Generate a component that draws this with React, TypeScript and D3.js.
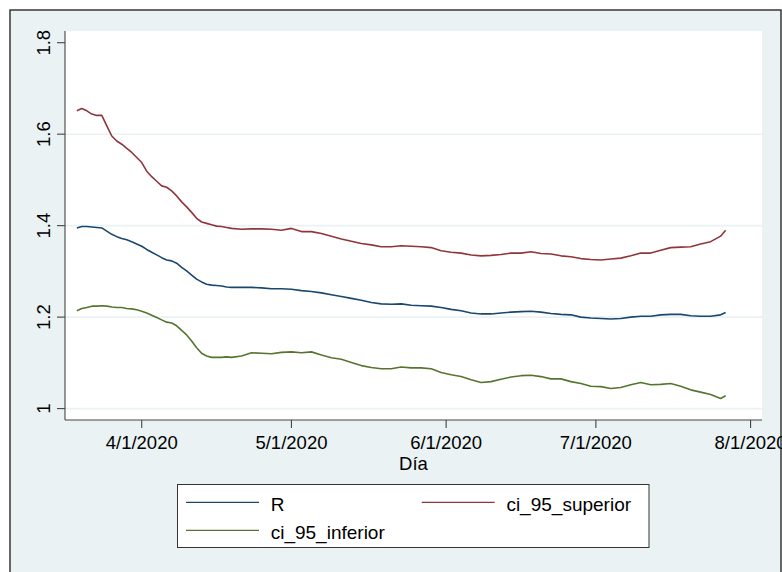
import React from "react";
import * as d3 from "d3";

// Daily / bi-daily estimates of the reproduction number and its 95% interval
const dates = [
  "2020-03-19", "2020-03-20", "2020-03-21", "2020-03-22", "2020-03-23", "2020-03-24",
  "2020-03-25", "2020-03-26", "2020-03-27", "2020-03-28", "2020-03-29", "2020-03-30",
  "2020-03-31", "2020-04-01", "2020-04-02", "2020-04-03", "2020-04-04", "2020-04-05",
  "2020-04-06", "2020-04-07", "2020-04-08", "2020-04-09", "2020-04-10", "2020-04-11",
  "2020-04-12", "2020-04-13", "2020-04-14", "2020-04-15", "2020-04-16", "2020-04-17",
  "2020-04-18", "2020-04-19",
  "2020-04-21", "2020-04-23", "2020-04-25", "2020-04-27", "2020-04-29",
  "2020-05-01", "2020-05-03", "2020-05-05", "2020-05-07", "2020-05-09", "2020-05-11",
  "2020-05-13", "2020-05-15", "2020-05-17", "2020-05-19", "2020-05-21", "2020-05-23",
  "2020-05-25", "2020-05-27", "2020-05-29", "2020-05-31",
  "2020-06-02", "2020-06-04", "2020-06-06", "2020-06-08", "2020-06-10", "2020-06-12",
  "2020-06-14", "2020-06-16", "2020-06-18", "2020-06-20", "2020-06-22", "2020-06-24",
  "2020-06-26", "2020-06-28", "2020-06-30",
  "2020-07-02", "2020-07-04", "2020-07-06", "2020-07-08", "2020-07-10", "2020-07-12",
  "2020-07-14", "2020-07-16", "2020-07-18", "2020-07-20", "2020-07-22", "2020-07-24",
  "2020-07-26", "2020-07-27",
];

const rValues = [
  1.395, 1.398, 1.398, 1.397, 1.396, 1.395, 1.388, 1.381, 1.376, 1.372, 1.369, 1.365,
  1.360, 1.355, 1.348, 1.342, 1.336, 1.330, 1.325, 1.323, 1.318, 1.309, 1.301, 1.292,
  1.283, 1.277, 1.272, 1.270, 1.269, 1.268, 1.266, 1.265,
  1.265, 1.265, 1.264, 1.262, 1.262, 1.261, 1.258, 1.256, 1.253, 1.249, 1.245, 1.241,
  1.237, 1.232, 1.229, 1.228, 1.229,
  1.226, 1.225, 1.224, 1.221, 1.217, 1.214, 1.209, 1.207, 1.207, 1.209, 1.211, 1.212,
  1.213, 1.211, 1.208, 1.206,
  1.205, 1.200, 1.198, 1.197, 1.196, 1.197, 1.200, 1.202, 1.202, 1.205, 1.206, 1.206,
  1.203, 1.202, 1.202, 1.205, 1.210,
];

const ciUpper = [
  1.651, 1.656, 1.651, 1.644, 1.641, 1.641, 1.618, 1.596, 1.585, 1.578, 1.569, 1.560,
  1.549, 1.538, 1.519, 1.507, 1.497, 1.487, 1.484, 1.476, 1.465, 1.452, 1.441, 1.429,
  1.416, 1.408, 1.405, 1.402, 1.399, 1.398, 1.396, 1.394,
  1.392, 1.393, 1.393, 1.392, 1.390, 1.394, 1.387, 1.387, 1.383, 1.377, 1.371, 1.366,
  1.361, 1.358, 1.354, 1.354, 1.356,
  1.355, 1.354, 1.352, 1.345, 1.342, 1.340, 1.336, 1.334, 1.335, 1.337, 1.340, 1.340,
  1.343, 1.339, 1.338, 1.334,
  1.332, 1.328, 1.326, 1.325, 1.327, 1.329, 1.334, 1.340, 1.340, 1.346, 1.352, 1.353,
  1.354, 1.360, 1.365, 1.377, 1.390,
];

const ciLower = [
  1.214, 1.219, 1.221, 1.224, 1.224, 1.225, 1.224, 1.222, 1.221, 1.221, 1.219, 1.218,
  1.216, 1.213, 1.209, 1.204, 1.199, 1.194, 1.189, 1.187, 1.181, 1.171, 1.161, 1.148,
  1.133, 1.121, 1.115, 1.112, 1.112, 1.112, 1.113, 1.112,
  1.115, 1.122, 1.121, 1.120, 1.123, 1.124, 1.122, 1.124, 1.117, 1.111, 1.108, 1.101,
  1.094, 1.090, 1.087, 1.087, 1.091,
  1.089, 1.089, 1.087, 1.079, 1.074, 1.070, 1.063, 1.057, 1.059, 1.064, 1.069, 1.072,
  1.073, 1.070, 1.065, 1.065,
  1.059, 1.055, 1.049, 1.048, 1.044, 1.046, 1.052, 1.057, 1.052, 1.053, 1.055, 1.049,
  1.041, 1.036, 1.031, 1.022, 1.028,
];

const yTicks = [1, 1.2, 1.4, 1.6, 1.8];
const yGridTicks = [1, 1.2, 1.4, 1.6];
const xTicks = ["2020-04-01", "2020-05-01", "2020-06-01", "2020-07-01", "2020-08-01"];
const xDomain = ["2020-03-16T15:00", "2020-08-03T07:00"];
const xTitle = "Día";

const seriesNames = ["R", "ci_95_superior", "ci_95_inferior"];
const seriesColors = ["#1a476f", "#90353b", "#55752f"];

const W = 782;
const H = 572;
const plot = { left: 65, right: 762, top: 31, bottom: 420 };
const FONT = "'Liberation Sans', Arial, Helvetica, sans-serif";
const BG = "#eaf2f3";

const parseDay = d3.timeParse("%Y-%m-%d");
const parseHour = d3.timeParse("%Y-%m-%dT%H:%M");
const fmtTick = d3.timeFormat("%-m/%-d/%Y");

export default function App() {
  const x = d3
    .scaleTime()
    .domain(xDomain.map((s) => parseHour(s) as Date))
    .range([plot.left, plot.right]);
  const y = d3.scaleLinear().domain([1, 1.8]).range([408.6, 42.7]);

  const seriesValues = [rValues, ciUpper, ciLower];
  const parsedDates = dates.map((s) => parseDay(s) as Date);

  const line = d3
    .line<[Date, number]>()
    .x((d) => x(d[0]))
    .y((d) => y(d[1]));

  // legend cells: two columns, wraps onto a second row
  const legend = { x: 177.5, y: 484.5, w: 471.5, h: 63 };
  const legendCells = seriesNames.map((name, i) => {
    const col = i % 2;
    const row = Math.floor(i / 2);
    const lx = legend.x + 8.5 + col * 235.7;
    const ly = legend.y + 17.8 + row * 28;
    return { name, color: seriesColors[i], lx, ly };
  });

  return (
    <svg
      width={W}
      height={H}
      style={{ position: "absolute", left: 0, top: 0, display: "block", background: "#fff" }}
      fontFamily={FONT}
    >
      <rect x={10} y={10} width={771} height={H + 20} fill={BG} stroke="#2b2b2b" strokeWidth={1.4} />
      <rect
        x={plot.left}
        y={plot.top}
        width={plot.right - plot.left}
        height={plot.bottom - plot.top}
        fill="#fff"
      />

      {/* horizontal grid */}
      {yGridTicks.map((t) => (
        <line
          key={"g" + t}
          x1={plot.left}
          x2={plot.right}
          y1={y(t)}
          y2={y(t)}
          stroke={BG}
          strokeWidth={1.6}
        />
      ))}

      {/* series */}
      {seriesValues.map((vals, i) => (
        <path
          key={seriesNames[i]}
          d={line(parsedDates.map((d, j) => [d, vals[j]] as [Date, number])) || ""}
          fill="none"
          stroke={seriesColors[i]}
          strokeWidth={1.6}
          strokeLinejoin="round"
        />
      ))}

      {/* y axis */}
      <line x1={plot.left} x2={plot.left} y1={plot.top} y2={plot.bottom} stroke="#444" strokeWidth={1.1} />
      {yTicks.map((t) => (
        <g key={"y" + t} transform={`translate(0,${y(t)})`}>
          <line x1={plot.left - 8} x2={plot.left} stroke="#444" strokeWidth={1.1} />
          <text
            transform={`translate(50,0) rotate(-90)`}
            textAnchor="middle"
            fontSize={18.5}
            fill="#000"
          >
            {String(t)}
          </text>
        </g>
      ))}

      {/* x axis */}
      <line x1={plot.left} x2={plot.right} y1={plot.bottom} y2={plot.bottom} stroke="#444" strokeWidth={1.1} />
      {xTicks.map((s) => {
        const d = parseDay(s) as Date;
        const px = x(d);
        return (
          <g key={s} transform={`translate(${px},0)`}>
            <line y1={plot.bottom} y2={plot.bottom + 8} stroke="#444" strokeWidth={1.1} />
            <text y={448.5} textAnchor="middle" fontSize={18.5} fill="#000">
              {fmtTick(d)}
            </text>
          </g>
        );
      })}
      <text x={(plot.left + plot.right) / 2} y={469.5} textAnchor="middle" fontSize={18.5} fill="#000">
        {xTitle}
      </text>

      {/* legend */}
      <rect
        x={legend.x}
        y={legend.y}
        width={legend.w}
        height={legend.h}
        fill="#fff"
        stroke="#333"
        strokeWidth={1}
      />
      {legendCells.map((c) => (
        <g key={c.name}>
          <line x1={c.lx} x2={c.lx + 73} y1={c.ly} y2={c.ly} stroke={c.color} strokeWidth={1.3} />
          <text x={c.lx + 84.7} y={c.ly + 8.3} fontSize={19} fill="#000">
            {c.name}
          </text>
        </g>
      ))}
    </svg>
  );
}
